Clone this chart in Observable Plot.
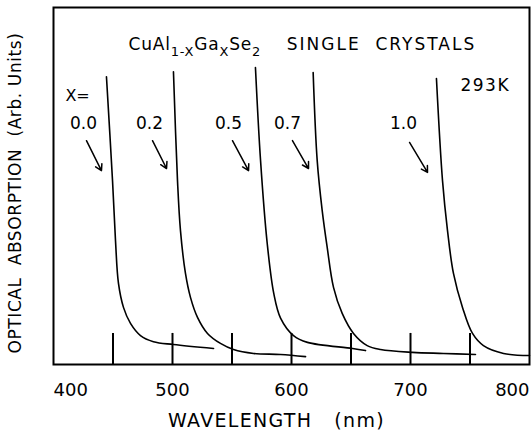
<!DOCTYPE html>
<html><head><meta charset="utf-8">
<script src="https://cdn.jsdelivr.net/npm/d3@7"></script>
<script src="https://cdn.jsdelivr.net/npm/@observablehq/plot@0.6"></script>
<style>
body{margin:0;background:#fff}
#chart svg{font-family:"DejaVu Sans",sans-serif;display:block}
</style>
</head><body><div id="chart"></div>
<script>
// Composition x of CuAl(1-x)Ga(x)Se2
const compositions = ["0.0", "0.2", "0.5", "0.7", "1.0"];

// Wavelength (nm) and optical absorption (arb. units, 0-100) per curve
const wl_00  = [444.5, 449.6, 452.1, 454.6, 458.8, 464.7, 473.1, 484.0, 500.8, 534.5];
const abs_00 = [80.6, 51.5, 34.7, 22.7, 16.0, 11.5, 8.1, 6.4, 5.6, 4.5];
const wl_02  = [500.8, 504.2, 506.7, 510.9, 515.1, 521.0, 529.4, 540.3, 551.3, 568.1, 590.8, 611.8];
const abs_02 = [82.0, 51.5, 37.5, 25.5, 18.8, 13.2, 8.7, 5.9, 4.2, 3.1, 2.8, 2.2];
const wl_05  = [569.7, 574.0, 579.6, 585.1, 590.8, 601.7, 613.4, 651.3, 662.2];
const abs_05 = [83.2, 57.1, 33.9, 19.9, 13.0, 8.1, 6.2, 4.5, 3.9];
const wl_07  = [618.2, 621.6, 625.8, 630.0, 635.3, 642.6, 652.1, 663.6, 674.8, 701.7, 727.7, 754.6];
const abs_07 = [81.8, 57.1, 43.1, 32.8, 21.6, 14.3, 8.7, 5.3, 4.2, 3.4, 3.1, 2.8];
const wl_10  = [721.8, 726.9, 731.1, 736.1, 743.7, 752.1, 761.3, 778.2, 800.0];
const abs_10 = [80.1, 51.5, 37.5, 25.5, 16.0, 8.7, 5.3, 3.1, 2.5];

// Annotation labels and arrows (data units)
const labelWl   = [425.2, 480.7, 547.1, 596.6, 694.1];
const labelAbs  = [67.5, 67.5, 67.5, 67.5, 67.5];
const arrowWl1  = [427.7, 483.2, 550.4, 600.8, 699.2];
const arrowAbs1 = [62.7, 62.7, 62.7, 62.7, 62.2];
const arrowWl2  = [440.3, 495.0, 563.9, 614.3, 714.3];
const arrowAbs2 = [54.3, 54.9, 54.3, 54.9, 53.8];

// Axis ticks
const insideTicks = [450, 500, 550, 600, 650, 700, 750];
const tickLabelsMid = [500, 600, 700];
const tickLabelLeft = [400];
const tickLabelRight = [800];

const titleText = "CuAl1-XGaXSe2";
const subtitleText = "SINGLE  CRYSTALS";
const tempText = "293K";
const xEqText = "X=";
const xLabelText = "WAVELENGTH   (nm)";
const yLabelText = "OPTICAL  ABSORPTION  (Arb. Units)";

const curveWl = [wl_00, wl_02, wl_05, wl_07, wl_10];
const curveAbs = [abs_00, abs_02, abs_05, abs_07, abs_10];
const curves = compositions.flatMap((c, i) => curveWl[i].map((w, j) => ({c, w, a: curveAbs[i][j]})));
const labels = compositions.map((c, i) => ({c, w: labelWl[i], a: labelAbs[i]}));
const arrows = compositions.map((c, i) => ({x1: arrowWl1[i], y1: arrowAbs1[i], x2: arrowWl2[i], y2: arrowAbs2[i]}));

const chart = Plot.plot({
  width: 532,
  height: 433,
  marginLeft: 53,
  marginRight: 3,
  marginTop: 7,
  marginBottom: 69,
  style: {fontSize: "17px", fontFamily: "DejaVu Sans, sans-serif", color: "#000", background: "#fff"},
  x: {domain: [400, 800], axis: null},
  y: {domain: [0, 100], axis: null},
  marks: [
    Plot.axisX({ticks: tickLabelsMid, tickSize: 0, tickPadding: 19, label: null, fontSize: 18}),
    Plot.axisX({ticks: tickLabelLeft, tickSize: 0, tickPadding: 19, label: null, textAnchor: "start", fontSize: 18}),
    Plot.axisX({ticks: tickLabelRight, tickSize: 0, tickPadding: 19, label: null, textAnchor: "end", fontSize: 18}),
    Plot.text([xLabelText], {frameAnchor: "bottom", dx: -15, dy: 62, fontSize: 19}),
    Plot.text([yLabelText], {frameAnchor: "left", textAnchor: "middle", dx: -38, dy: 7, rotate: -90, fontSize: 17}),
    Plot.ruleX(insideTicks, {y1: 0, y2: 8.7, stroke: "#000", strokeWidth: 2}),
    Plot.line(curves, {x: "w", y: "a", z: "c", curve: "catmull-rom", stroke: "#000", strokeWidth: 1.6}),
    Plot.text(labels, {x: "w", y: "a", text: "c", fontSize: 17}),
    Plot.arrow(arrows, {x1: "x1", y1: "y1", x2: "x2", y2: "y2", stroke: "#000", strokeWidth: 1.5, headLength: 7}),
    Plot.text([xEqText], {x: 410, y: 75.3, textAnchor: "start", fontSize: 16}),
    Plot.text([titleText], {x: 463, y: 89.6, textAnchor: "start", fontSize: 17}),
    Plot.text([subtitleText], {x: 596, y: 89.6, textAnchor: "start", fontSize: 17}),
    Plot.text([tempText], {x: 742, y: 78, textAnchor: "start", fontSize: 17}),
    Plot.frame({stroke: "#000", strokeWidth: 2})
  ]
});

const svg = d3.select(chart);
const byText = (s) => svg.selectAll("text").filter(function() { return this.textContent === s; });
byText(subtitleText).attr("letter-spacing", 2);
byText(tempText).attr("letter-spacing", 1.5);
byText(xLabelText).attr("letter-spacing", 1.3);
byText(yLabelText).attr("letter-spacing", 0.6);
byText(titleText).attr("letter-spacing", 0.8);

// Subscripts in the chemical formula
byText(titleText).each(function() {
  const t = d3.select(this);
  t.text(null);
  const parts = [["CuAl", false], ["1-X", true], ["Ga", false], ["X", true], ["Se", false], ["2", true]];
  let shifted = false;
  for (const [s, sub] of parts) {
    const sp = t.append("tspan").text(s);
    if (sub && !shifted) { sp.attr("dy", 6).attr("font-size", 13); shifted = true; }
    else if (sub) { sp.attr("font-size", 13); }
    else if (shifted) { sp.attr("dy", -6); shifted = false; }
  }
});

document.getElementById("chart").append(chart);
</script>
</body></html>
